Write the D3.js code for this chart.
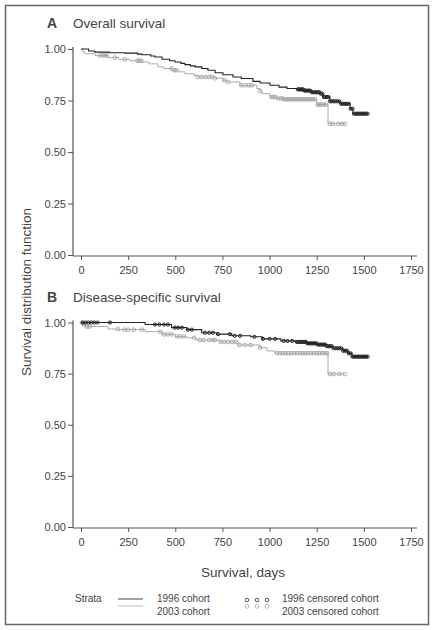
<!DOCTYPE html>
<html>
<head>
<meta charset="utf-8">
<script src="https://cdn.jsdelivr.net/npm/d3@7"></script>
<style>
  html, body { margin: 0; padding: 0; background: #fff; }
  svg text { font-family: "Liberation Sans", Arial, sans-serif; fill: #444; }
</style>
</head>
<body>
<svg id="chart" width="435" height="630"></svg>
<script>
// ---------- DATA ----------
const xTicks = [0, 250, 500, 750, 1000, 1250, 1500, 1750];
const yTicks = [0, 0.25, 0.5, 0.75, 1];

// Panel A: Overall survival
const a1996Time = [0, 40, 74, 150, 233, 300, 323, 370, 392, 430, 470, 498, 530, 551, 580, 605, 640, 673, 711, 753, 806, 850, 912, 950, 1002, 1050, 1092, 1145, 1180, 1220, 1267, 1283, 1320, 1373, 1427, 1442, 1522];
const a1996Surv = [1.0, 0.99, 0.985, 0.982, 0.98, 0.975, 0.972, 0.966, 0.961, 0.95, 0.943, 0.937, 0.93, 0.924, 0.918, 0.913, 0.905, 0.897, 0.885, 0.875, 0.864, 0.857, 0.843, 0.835, 0.824, 0.815, 0.808, 0.804, 0.798, 0.79, 0.783, 0.767, 0.746, 0.734, 0.71, 0.686, 0.686];
const a1996Cens = [1150, 1157, 1164, 1171, 1178, 1185, 1192, 1200, 1208, 1216, 1224, 1232, 1240, 1248, 1256, 1264, 1272, 1280, 1288, 1296, 1304, 1312, 1320, 1330, 1340, 1350, 1360, 1370, 1380, 1390, 1400, 1410, 1420, 1430, 1440, 1448, 1456, 1464, 1472, 1480, 1488, 1496, 1504, 1512, 1520];

const a2003Time = [0, 10, 21, 74, 143, 200, 260, 323, 360, 408, 440, 483, 520, 551, 600, 620, 711, 753, 774, 843, 933, 950, 960, 1002, 1040, 1071, 1251, 1310, 1400];
const a2003Surv = [1.0, 0.985, 0.977, 0.969, 0.958, 0.95, 0.943, 0.937, 0.928, 0.913, 0.905, 0.897, 0.889, 0.88, 0.872, 0.864, 0.858, 0.848, 0.84, 0.824, 0.808, 0.795, 0.783, 0.767, 0.76, 0.756, 0.73, 0.637, 0.637];
const a2003Cens = [100, 115, 125, 135, 180, 233, 300, 310, 320, 480, 495, 505, 620, 640, 660, 680, 695, 711, 760, 780, 850, 870, 890, 905, 950, 1010, 1020, 1030, 1045, 1060, 1070, 1080, 1090, 1100, 1110, 1120, 1130, 1140, 1150, 1160, 1170, 1180, 1190, 1200, 1210, 1220, 1230, 1240, 1255, 1265, 1275, 1290, 1300, 1320, 1335, 1365, 1385, 1400];

// Panel B: Disease-specific survival
const b1996Time = [0, 340, 480, 560, 640, 720, 800, 900, 960, 1060, 1140, 1200, 1250, 1300, 1336, 1389, 1416, 1437, 1522];
const b1996Surv = [1.0, 0.99, 0.975, 0.965, 0.95, 0.943, 0.935, 0.93, 0.92, 0.91, 0.905, 0.898, 0.892, 0.884, 0.874, 0.862, 0.849, 0.833, 0.833];
const b1996Cens = [10, 25, 40, 55, 70, 88, 154, 392, 415, 440, 461, 498, 515, 535, 567, 588, 657, 680, 700, 727, 790, 815, 843, 920, 965, 1000, 1030, 1075, 1095, 1120, 1145, 1152, 1160, 1168, 1176, 1184, 1192, 1200, 1208, 1216, 1224, 1232, 1240, 1248, 1256, 1264, 1272, 1280, 1288, 1296, 1304, 1312, 1320, 1330, 1340, 1350, 1360, 1370, 1380, 1390, 1400, 1410, 1420, 1430, 1440, 1448, 1456, 1464, 1472, 1480, 1488, 1496, 1504, 1512, 1520];

const b2003Time = [0, 10, 25, 143, 200, 340, 430, 500, 560, 610, 737, 833, 949, 986, 1029, 1310, 1400];
const b2003Surv = [1.0, 0.99, 0.98, 0.968, 0.965, 0.955, 0.942, 0.932, 0.925, 0.914, 0.905, 0.89, 0.877, 0.861, 0.85, 0.748, 0.748];
const b2003Cens = [5, 15, 30, 45, 196, 230, 250, 280, 323, 420, 440, 460, 480, 510, 525, 545, 600, 630, 650, 680, 700, 710, 740, 760, 780, 800, 820, 840, 870, 900, 950, 1040, 1055, 1070, 1085, 1100, 1115, 1130, 1145, 1160, 1175, 1190, 1205, 1220, 1235, 1250, 1265, 1280, 1295, 1305, 1320, 1340, 1370, 1400];

const panelLetters = ["A", "B"];
const panelTitles = ["Overall survival", "Disease-specific survival"];
const seriesNames = ["1996 cohort", "2003 cohort"];
const censNames = ["1996 censored cohort", "2003 censored cohort"];

// ---------- DRAW ----------
const svg = d3.select("#chart");
const darkCol = "#222", lightCol = "#aaa";

svg.append("rect").attr("x", 5.5).attr("y", 5.5).attr("width", 423).attr("height", 619)
  .attr("fill", "none").attr("stroke", "#666").attr("stroke-width", 1.5);

const x = d3.scaleLinear().domain([0, 1750]).range([81, 411]);

function stepVal(times, surv, t) {
  let v = surv[0];
  for (let i = 0; i < times.length; i++) { if (times[i] <= t) v = surv[i]; }
  return v;
}

function drawPanel(idx, yTop, yBot, d96t, d96s, d96c, d03t, d03s, d03c) {
  const y = d3.scaleLinear().domain([0, 1]).range([yBot, yTop]);
  const g = svg.append("g");

  // Y axis
  const yAx = g.append("g").attr("transform", "translate(73,0)")
    .call(d3.axisLeft(y).tickValues(yTicks).tickFormat(d3.format(".2f")).tickSize(5).tickSizeOuter(0));
  yAx.select(".domain").remove();
  yAx.append("line").attr("x1", 0).attr("x2", 0).attr("y1", yTop - 2).attr("y2", yBot + 1)
    .attr("stroke", "#555").attr("stroke-width", 1.2);
  yAx.selectAll(".tick line").attr("stroke", "#555");
  yAx.selectAll(".tick text").attr("font-size", 11).attr("fill", "#555").attr("x", -7)
    .style("font-family", "Liberation Sans, Arial, sans-serif");

  // X axis
  const xAx = g.append("g").attr("transform", `translate(0,${yBot + 1})`)
    .call(d3.axisBottom(x).tickValues(xTicks).tickFormat(d3.format("d")).tickSize(4).tickSizeOuter(0));
  xAx.select(".domain").remove();
  xAx.append("line").attr("x1", 73).attr("x2", 417).attr("y1", 0).attr("y2", 0)
    .attr("stroke", "#555").attr("stroke-width", 1.2);
  xAx.selectAll(".tick line").attr("stroke", "#555");
  xAx.selectAll(".tick text").attr("font-size", 11).attr("fill", "#555").attr("y", 10)
    .style("font-family", "Liberation Sans, Arial, sans-serif");

  // Title
  g.append("text").attr("x", 47).attr("y", yTop - 21).attr("font-size", 14).attr("font-weight", "bold")
    .attr("fill", "#222").text(panelLetters[idx]);
  g.append("text").attr("x", 73).attr("y", yTop - 21).attr("font-size", 13.5).attr("fill", "#444")
    .text(panelTitles[idx]);

  const line = d3.line().x(d => x(d[0])).y(d => y(d[1])).curve(d3.curveStepAfter);

  // 2003 (light) first
  g.append("path").datum(d3.zip(d03t, d03s)).attr("d", line).attr("fill", "none")
    .attr("stroke", lightCol).attr("stroke-width", 1);
  g.selectAll(".c03").data(d03c).enter().append("rect")
    .attr("x", d => x(d) - 1.7).attr("y", d => y(stepVal(d03t, d03s, d)) - 1.7)
    .attr("width", 3.4).attr("height", 3.4).attr("rx", 1.1)
    .attr("fill", "none").attr("stroke", "#a0a0a0").attr("stroke-width", 0.9);

  g.append("path").datum(d3.zip(d96t, d96s)).attr("d", line).attr("fill", "none")
    .attr("stroke", darkCol).attr("stroke-width", 1.1);
  g.selectAll(".c96").data(d96c).enter().append("circle")
    .attr("cx", d => x(d)).attr("cy", d => y(stepVal(d96t, d96s, d)))
    .attr("r", 1.6).attr("fill", "none").attr("stroke", darkCol).attr("stroke-width", 1);
}

drawPanel(0, 49, 255, a1996Time, a1996Surv, a1996Cens, a2003Time, a2003Surv, a2003Cens);
drawPanel(1, 322.5, 527, b1996Time, b1996Surv, b1996Cens, b2003Time, b2003Surv, b2003Cens);

// Axis titles
svg.append("text").attr("x", 243).attr("y", 577).attr("text-anchor", "middle")
  .attr("font-size", 13.5).text("Survival, days");
svg.append("text").attr("transform", "translate(31,292) rotate(-90)").attr("text-anchor", "middle")
  .attr("font-size", 13.5).text("Survival distribution function");

// Legend
const lg = svg.append("g");
lg.append("text").attr("x", 75).attr("y", 602).attr("font-size", 10).text("Strata");
lg.append("line").attr("x1", 118).attr("x2", 143).attr("y1", 599).attr("y2", 599).attr("stroke", "#555").attr("stroke-width", 1.1);
lg.append("line").attr("x1", 118).attr("x2", 143).attr("y1", 606).attr("y2", 606).attr("stroke", "#bbb").attr("stroke-width", 1);
lg.append("text").attr("x", 157).attr("y", 602).attr("font-size", 10).text(seriesNames[0]);
lg.append("text").attr("x", 157).attr("y", 615).attr("font-size", 10).text(seriesNames[1]);
[247, 257, 267].forEach(cx => {
  lg.append("circle").attr("cx", cx).attr("cy", 600).attr("r", 1.8).attr("fill", "none").attr("stroke", "#444").attr("stroke-width", 0.9);
  lg.append("rect").attr("x", cx - 1.8).attr("y", 604.5).attr("width", 3.6).attr("height", 3.6).attr("rx", 1.2)
    .attr("fill", "none").attr("stroke", "#aaa").attr("stroke-width", 0.9);
});
lg.append("text").attr("x", 282).attr("y", 602).attr("font-size", 10).text(censNames[0]);
lg.append("text").attr("x", 282).attr("y", 615).attr("font-size", 10).text(censNames[1]);
</script>
</body>
</html>
